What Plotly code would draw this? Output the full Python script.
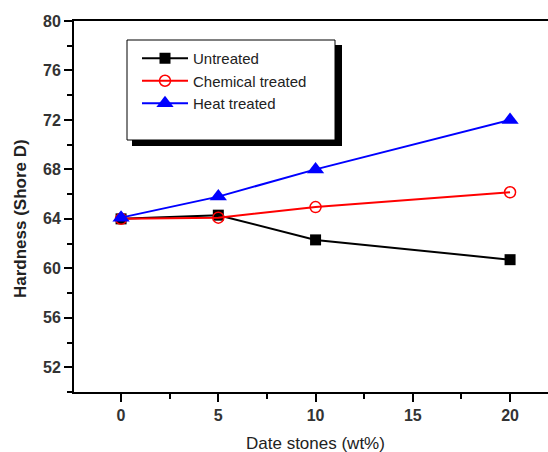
import plotly.graph_objects as go

x_vals = [0, 5, 10, 20]
untreated = [64.0, 64.3, 62.3, 60.7]
chemical = [64.0, 64.1, 64.95, 66.15]
heat = [64.1, 65.8, 68.0, 72.0]
series_names = ["Untreated", "Chemical treated", "Heat treated"]
x_title = "Date stones (wt%)"
y_title = "Hardness (Shore D)"

W, H = 548, 452
L, R, T, B = 74, 0, 21, 60
pw, ph = W - L - R, H - T - B

def px(xp):
    return (xp - L) / pw

def py(yp):
    return (H - B - yp) / ph

fig = go.Figure()
fig.add_trace(go.Scatter(x=x_vals, y=untreated, name=series_names[0], mode="lines+markers",
                         line=dict(color="black", width=2),
                         marker=dict(symbol="square", size=11, color="black")))
fig.add_trace(go.Scatter(x=x_vals, y=chemical, name=series_names[1], mode="lines+markers",
                         line=dict(color="red", width=2),
                         marker=dict(symbol="circle-open", size=11, color="red", line=dict(width=1.5))))
fig.add_trace(go.Scatter(x=x_vals, y=heat, name=series_names[2], mode="lines+markers",
                         line=dict(color="blue", width=2),
                         marker=dict(symbol="triangle-up", size=15, color="blue")))

font_family = "Liberation Sans, Arial, sans-serif"
fig.update_layout(
    width=W, height=H,
    margin=dict(l=L, r=R, t=T, b=B, pad=0),
    paper_bgcolor="white", plot_bgcolor="white",
    font=dict(family=font_family, size=13, color="#222"),
    showlegend=True,
    legend=dict(x=px(137), y=py(42), xanchor="left", yanchor="top",
                bgcolor="rgba(0,0,0,0)", borderwidth=0, itemwidth=46,
                font=dict(family=font_family, size=15, color="#222"),
                tracegroupgap=0),
    xaxis=dict(range=[-2.42, 21.95], showgrid=False, zeroline=False,
               showline=True, linecolor="black", linewidth=2, mirror=True,
               ticks="outside", ticklen=8, tickwidth=2, tickcolor="black",
               tickmode="array", tickvals=[0, 5, 10, 15, 20],
               tickfont=dict(family=font_family, size=16, color="#333", weight="bold"),
               minor=dict(ticks="outside", ticklen=5, tickwidth=2, tickcolor="black",
                          tickvals=[-2.5, 2.5, 7.5, 12.5, 17.5])),
    yaxis=dict(range=[50, 80], showgrid=False, zeroline=False,
               showline=True, linecolor="black", linewidth=2, mirror=False,
               ticks="outside", ticklen=8, tickwidth=2, tickcolor="black",
               tickmode="array", tickvals=[52, 56, 60, 64, 68, 72, 76, 80],
               tickfont=dict(family=font_family, size=16, color="#333", weight="bold"),
               minor=dict(ticks="outside", ticklen=5, tickwidth=2, tickcolor="black",
                          tickvals=[50, 54, 58, 62, 66, 70, 74, 78])),
    shapes=[
        dict(type="rect", xref="paper", yref="paper", x0=px(132), x1=px(342), y0=py(146), y1=py(45),
             fillcolor="black", line=dict(width=0), layer="below"),
        dict(type="rect", xref="paper", yref="paper", x0=px(127), x1=px(335), y0=py(140), y1=py(40),
             fillcolor="white", line=dict(color="black", width=1), layer="below"),
    ],
    annotations=[
        dict(text=y_title, xref="paper", yref="paper", x=px(20), y=py(219), textangle=-90,
             showarrow=False, xanchor="center", yanchor="middle",
             font=dict(family=font_family, size=17, color="#222", weight="bold")),
        dict(text=x_title, xref="paper", yref="paper", x=px(315), y=py(443),
             showarrow=False, xanchor="center", yanchor="middle",
             font=dict(family=font_family, size=17, color="#222")),
    ],
)

fig.write_html("out.html")
